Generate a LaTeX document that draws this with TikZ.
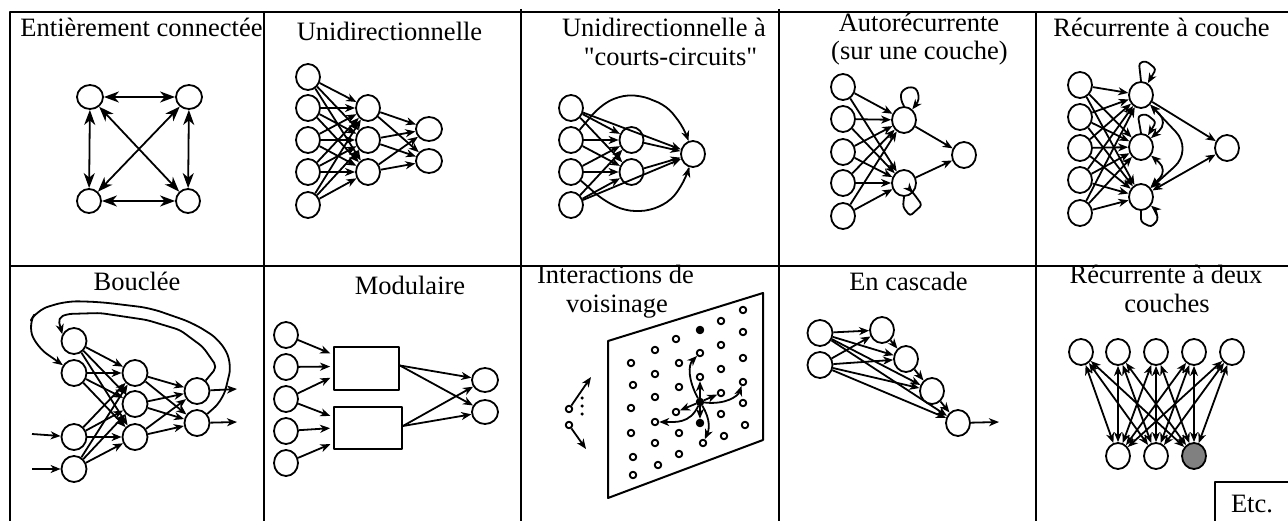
\documentclass[tikz,border=0pt]{standalone}
\usepackage{fontspec}
\setmainfont{Liberation Serif}[Ligatures=TeXOff]
\usetikzlibrary{arrows.meta,shapes.geometric}
\begin{document}
\begin{tikzpicture}[x=1pt,y=-1pt,line width=1.8pt,line join=round,
  >={Stealth[length=10pt,width=8pt,inset=3pt]},
  grand/.style={>={Stealth[length=15pt,width=11pt,inset=4.5pt]}},
  neurone/.style={draw,ellipse,inner sep=0,minimum width=24pt,minimum height=26pt},
  plat/.style={minimum width=26pt,minimum height=24pt},
  point/.style={draw,circle,inner sep=0,minimum size=6.5pt,line width=1.9pt},
  titre/.style={anchor=base,inner sep=0,font=\fontsize{26.5}{30}\selectfont},
  boucle/.style={->,rounded corners=6pt}]
\useasboundingbox (0,0) rectangle (1288,521);

\draw[line width=2pt] (9.5,521) -- (9.5,12) -- (1288,12);
\draw[line width=2pt] (9.5,266) -- (1288,266);
\foreach \x/\y in {264/12,521/9,779/9,1036/12}
  \draw[line width=2pt] (\x,\y) -- (\x,521);

\node[titre] (ta) at (141.5,37) {Entièrement connectée};
\node[titre] (tb) at (389.5,41) {Unidirectionnelle};
\node[titre] (tc) at (664,37) {Unidirectionnelle à};
\node[titre] (tcc) at (670.5,66) {"courts-circuits"};
\node[titre] (td) at (919,32) {Autorécurrente};
\node[titre] (tdd) at (919.5,60) {(sur une couche)};
\node[titre] (te) at (1161.5,37) {Récurrente à couche};
\node[titre] (tf) at (137,291) {Bouclée};
\node[titre] (tg) at (410,295) {Modulaire};
\node[titre] (th) at (615.5,284) {Interactions de};
\node[titre] (thh) at (617,313) {voisinage};
\node[titre] (ti) at (908.5,291) {En cascade};
\node[titre] (tj) at (1166,284) {Récurrente à deux};
\node[titre] (tjj) at (1167,313) {couches};
\node[titre] (tk) at (1252,512) {Etc.};
\draw[line width=2pt] (1288,482) -- (1215,482) -- (1215,521);

\node[neurone,plat] (a1) at (90,97) {};
\node[neurone,plat] (a2) at (189,97) {};
\node[neurone,minimum width=24pt,minimum height=24pt] (a3) at (89,201) {};
\node[neurone,minimum width=24pt,minimum height=24pt] (a4) at (188,201) {};
\begin{scope}[grand]
\draw[<->] (a1) -- (a2);
\draw[<->] (a3) -- (a4);
\draw[<->] (a1) -- (a3);
\draw[<->] (a2) -- (a4);
\draw[<->] (a1) -- (a4);
\draw[<->] (a2) -- (a3);
\end{scope}

\foreach \y [count=\n] in {77,108,140,172,205}
  \node[neurone] (bi\n) at (308,\y) {};
\foreach \y [count=\n] in {108,140,172}
  \node[neurone] (bh\n) at (368,\y) {};
\foreach \y [count=\n] in {129,161}
  \node[neurone,plat] (bo\n) at (429,\y) {};
\foreach \i in {1,...,5}
  \foreach \j in {1,2,3}
    \draw[->] (bi\i) -- (bh\j);
\foreach \i in {1,2,3}
  \foreach \j in {1,2}
    \draw[->] (bh\i) -- (bo\j);

\foreach \y [count=\n] in {108,140,172,205}
  \node[neurone] (ci\n) at (571,\y) {};
\foreach \y [count=\n] in {140,172}
  \node[neurone] (ch\n) at (631.5,\y) {};
\node[neurone] (co) at (693,154) {};
\foreach \i in {1,...,4}
  \foreach \j in {1,2}
    \draw[->] (ci\i) -- (ch\j);
\draw[->] (ch1) -- (co);
\draw[->] (ch2) -- (co);
\draw[->] (ci1) -- (co);
\draw[->] (ci4) -- (co);
\draw[boucle,rounded corners=10pt] (ci2) -- (599,107) -- (618,96) -- (640,95) -- (667,106) -- (684,128) -- (co);
\draw[boucle,rounded corners=10pt] (ci3) -- (603,200) -- (625,211) -- (650,211) -- (672,200) -- (686,178) -- (co);

\foreach \y [count=\n] in {87,119,152,183,216}
  \node[neurone] (di\n) at (843,\y) {};
\node[neurone] (dh1) at (904,120) {};
\node[neurone] (dh2) at (904,183) {};
\node[neurone] (do) at (964,155) {};
\foreach \i in {1,...,5}
  \foreach \j in {1,2}
    \draw[->] (di\i) -- (dh\j);
\draw[->] (dh1) -- (do);
\draw[->] (dh2) -- (do);
\draw[boucle,rounded corners=3pt] (dh1.north) -- (901,100) -- (901,92) -- (908,87) -- (916,88) -- (919,96) -- (918,102) -- (dh1);
\draw[boucle,rounded corners=3pt] (dh2.south) -- (903,207) -- (910,216) -- (922,205) -- (914,194) -- (dh2);

\foreach \y [count=\n] in {85,117,148,180,213}
  \node[neurone] (ei\n) at (1080,\y) {};
\foreach \y [count=\n] in {95,147,197}
  \node[neurone] (eh\n) at (1141,\y) {};
\node[neurone] (eo) at (1227,148) {};
\foreach \i in {1,...,5}
  \foreach \j in {1,2,3}
    \draw[->] (ei\i) -- (eh\j);
\draw[->] (eh1) -- (eo);
\draw[<->] (eh3) -- (eo);
\draw[boucle,rounded corners=3pt] (eh1.north) -- (1139,63) -- (1146,61) -- (1156,69) -- (eh1);
\draw[boucle,rounded corners=3pt] (eh2.north) -- (1138,116) -- (1146,114) -- (1156,122) -- (eh2);
\draw[boucle,rounded corners=3pt] (eh3.south) -- (1141,222) -- (1151,227) -- (1158,220) -- (1156,210) -- (eh3);
\draw[<->,rounded corners=12pt] (eh1) -- (1168,123) -- (eh2);
\draw[<->,rounded corners=12pt] (eh2) -- (1168,170) -- (eh3);
\draw[<->,rounded corners=25pt] (eh1) -- (1193,150) -- (eh3);

\foreach \y [count=\n] in {341,373,437,469}
  \node[neurone,minimum width=25pt] (fi\n) at (74,\y) {};
\foreach \y [count=\n] in {373,404,437}
  \node[neurone,minimum width=25pt] (fh\n) at (135,\y) {};
\foreach \y [count=\n] in {391,423}
  \node[neurone,minimum width=25pt] (fo\n) at (197,\y) {};
\foreach \i in {1,...,4}
  \foreach \j in {1,2,3}
    \draw[->] (fi\i) -- (fh\j);
\foreach \i in {1,2,3}
  \foreach \j in {1,2}
    \draw[->] (fh\i) -- (fo\j);
\coordinate (fe1) at (32,434);
\coordinate (fe2) at (32,469);
\coordinate (fs1) at (237,389);
\coordinate (fs2) at (237,422);
\draw[->] (fe1) -- (fi3);
\draw[->] (fe2) -- (fi4);
\draw[->] (fo1) -- (fs1);
\draw[->] (fo2) -- (fs2);
\draw[boucle,rounded corners=12pt] (fo2) -- (223,400) -- (232,363) -- (220,340) -- (193,323) -- (150,308) -- (100,302) -- (67,301) -- (37,310) -- (28,325) -- (37,347) -- (fi2);
\draw[boucle,rounded corners=5pt] (fo1) -- (217,367) -- (203,347) -- (180,330) -- (147,320) -- (100,313) -- (67,314) -- (58,318) -- (fi1.150);

\foreach \y [count=\n] in {335,367,399,431,463}
  \node[neurone] (gi\n) at (286,\y) {};
\node[draw,inner sep=0,minimum width=65pt,minimum height=43pt] (ga) at (366.5,368.5) {};
\node[draw,inner sep=0,minimum width=68pt,minimum height=42pt] (gb) at (368,428) {};
\node[neurone,plat] (go1) at (485,380) {};
\node[neurone,plat] (go2) at (485,412) {};
\begin{scope}[shorten >=3pt]
\draw[->] (gi1) -- ([yshift=14pt]ga.west);
\draw[->] (gi2) -- ([yshift=2pt]ga.west);
\draw[->] (gi3) -- ([yshift=-8pt]ga.west);
\draw[->] (gi3) -- ([yshift=11pt]gb.west);
\draw[->] (gi4) -- (gb.west);
\draw[->] (gi5) -- ([yshift=-15pt]gb.west);
\end{scope}
\draw[->] ([yshift=3pt]ga.east) -- (go1);
\draw[->] ([yshift=3pt]ga.east) -- (go2);
\draw[->] ([yshift=2pt]gb.east) -- (go1);
\draw[->] ([yshift=2pt]gb.east) -- (go2);

\draw[line width=2pt] (608,498) -- (608,341) -- (763,293) -- (763,440) -- cycle;
\foreach \x/\y/\c [count=\n] in {743/310/white,721/321/white,700/330/black,676/339/white,655/350/white,631/363/white,
    743/332/white,721/345/white,700/353/white,679/363/white,655/374/white,633/385/white,
    743/358/white,721/369/white,700/377/white,679/387/white,655/397/white,631/408/white,
    743/382/white,721/393/white,700/402/black,676/412/white,655/422/white,631/433/white,
    743/403/white,721/414/white,700/423/black,679/433/white,655/443/white,633/457/white,
    745/425/white,724/436/white,703/443/white,679/454/white,658/465/white,633/475/white}
  \node[point,fill=\c] (v\n) at (\x,\y) {};
\draw[->] (v21) .. controls (688,380) and (688,365) .. (v9);
\draw[->] (v21) -- (v15);
\draw[->] (v21) -- (v20);
\draw[->] (v21) -- (v22);
\draw[->] (v21) -- (v27);
\draw[->] (v21) .. controls (726,405) and (738,396) .. (v19);
\draw[->] (v21) .. controls (690,424) and (675,422) .. (v23);
\draw[->] (v21) .. controls (711,420) and (709,430) .. (v33);
\node[point] (l1) at (569,409) {};
\node[point] (l2) at (569,425) {};
\coordinate (lf1) at (591,377);
\coordinate (lf2) at (586,449);
\draw[->] (l1) -- (lf1);
\draw[->] (l2) -- (lf2);
\foreach \y [count=\n] in {398,406,414}
  \node[circle,fill,inner sep=0,minimum size=3.5pt] (lp\n) at (582,\y) {};

\node[neurone,minimum width=25pt] (hi1) at (820,333) {};
\node[neurone,minimum width=25pt] (hi2) at (820,365) {};
\node[neurone] (hc1) at (882,330) {};
\node[neurone] (hc2) at (906,359) {};
\node[neurone] (hc3) at (932,391) {};
\node[neurone] (hc4) at (958,423) {};
\foreach \i in {1,2}
  \foreach \j in {1,...,4}
    \draw[->] (hi\i) -- (hc\j);
\draw[->] (hc1) -- (hc2);
\draw[->] (hc2) -- (hc3);
\draw[->] (hc3) -- (hc4);
\coordinate (hs) at (999,422);
\draw[->] (hc4) -- (hs);

\foreach \x [count=\n] in {1081,1118,1156,1194,1232}
  \node[neurone] (jh\n) at (\x,352) {};
\foreach \x/\c [count=\n] in {1118/white,1156/white,1194/gray}
  \node[neurone,fill=\c] (jb\n) at (\x,456) {};
\foreach \i in {1,...,5}
  \foreach \j in {1,2,3}
    \draw[<->] (jh\i) -- (jb\j);
\end{tikzpicture}
\end{document}
